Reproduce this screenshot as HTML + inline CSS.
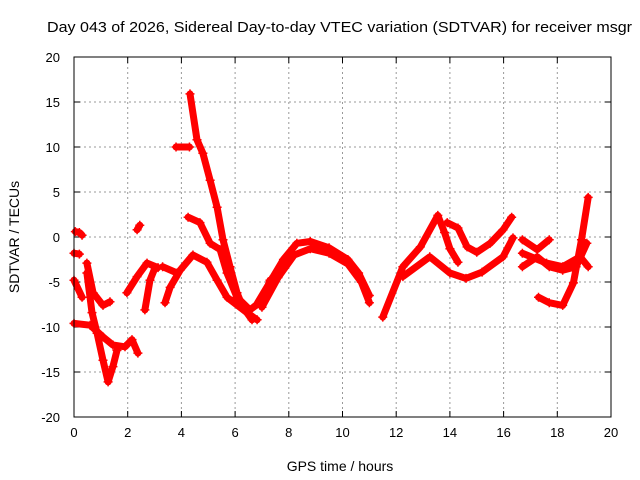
<!DOCTYPE html>
<html><head><meta charset="utf-8"><style>
body{margin:0;background:#fff}
svg{display:block;font-family:"Liberation Sans",sans-serif}
</style></head><body>
<svg id="chart" width="640" height="480">
<text x="47" y="32" font-size="15" textLength="585" lengthAdjust="spacingAndGlyphs">Day 043 of 2026, Sidereal Day-to-day VTEC variation (SDTVAR) for receiver msgr</text>
<text x="340" y="471" font-size="14" text-anchor="middle">GPS time / hours</text>
<text transform="translate(19,237) rotate(-90)" font-size="14" text-anchor="middle">SDTVAR / TECUs</text>
<g id="grid"></g><g id="series"></g>
<rect x="74" y="57" width="537" height="360" fill="none" stroke="#000" stroke-width="1"/>
</svg>
<script>
const xTicks=[0,2,4,6,8,10,12,14,16,18,20];
const yTicks=[-20,-15,-10,-5,0,5,10,15,20];
const trackA=[[0.05,0.6],[0.2,0.5],[0.3,0.2]];
const trackB=[[0.0,-1.8],[0.2,-1.9]];
const trackC=[[0.48,-2.9],[0.71,-6.2],[1.08,-7.6],[1.34,-7.2]];
const trackD=[[0.0,-4.8],[0.3,-6.7]];
const trackE=[[0.48,-4],[0.67,-8.4],[0.86,-10.7],[1.08,-13.7],[1.27,-16.1],[1.45,-14.4],[1.6,-12.6]];
const trackF=[[0.0,-9.6],[0.6,-9.8],[1.08,-11.1],[1.45,-12],[1.9,-12.2],[2.16,-11.4],[2.38,-12.9]];
const trackG=[[2.35,0.8],[2.45,1.3]];
const trackH=[[1.97,-6.2],[2.35,-4.4],[2.72,-2.9],[3.13,-3.4]];
const trackI=[[2.64,-8.1],[2.83,-4.8],[3.02,-3.4]];
const trackJ=[[3.39,-7.3],[3.58,-5.6],[3.95,-3.7],[4.43,-2],[4.95,-2.8],[5.33,-4.8],[5.7,-6.7],[6.44,-8.4],[6.82,-9.2]];
const trackK=[[3.3,-3.3],[3.84,-4]];
const trackL=[[4.32,15.9],[4.58,10.8],[4.8,9.3],[5.07,6.3],[5.33,3.3],[5.55,-0.3],[5.81,-3.3],[6.07,-6.2],[6.29,-7.8],[6.63,-9.2]];
const trackM=[[4.25,2.2],[4.69,1.6],[5.07,-0.7],[5.44,-1.4],[5.7,-4],[6.07,-6.7],[6.55,-8.1],[7.04,-7],[7.3,-4.8]];
const trackN=[[3.8,10],[4.3,10]];
const trackW1=[[6.8,-7.5],[7.3,-5],[7.8,-2.5],[8.3,-0.7],[8.8,-0.5],[9.5,-1.2],[10.2,-2.5],[10.6,-4],[11,-6.5]];
const trackW2=[[7.0,-7.8],[7.6,-4.5],[8.2,-2],[8.8,-1.3],[9.5,-1.8],[10.2,-3],[10.7,-5],[11,-7.3]];
const trackQ1=[[11.5,-8.9],[12.25,-3.3],[12.9,-1.1],[13.55,2.4],[13.8,0.5],[14.0,-1.3],[14.3,-2.8]];
const trackQ2=[[12.25,-4.4],[13.25,-2.2],[14.0,-4],[14.6,-4.6],[15.2,-3.9],[15.98,-2.2],[16.35,-0.1]];
const trackQ3=[[13.9,1.6],[14.3,1],[14.64,-1.1],[15.0,-1.7],[15.5,-0.7],[15.98,0.8],[16.3,2.2]];
const trackR1=[[16.7,-0.3],[17.25,-1.4],[17.7,-0.3]];
const trackR2=[[16.7,-3.3],[17.25,-2.2],[17.7,-3.3],[18.2,-3.7],[18.7,-3.3],[19.1,-0.7]];
const trackR3=[[17.3,-6.7],[17.7,-7.3],[18.2,-7.6],[18.6,-5.1],[18.9,-0.3],[19.15,4.4]];
const trackR4=[[16.7,-1.8],[17.6,-2.9],[18.2,-3.3],[18.85,-2.2],[19.15,-3.3]];
const tracks=[trackA,trackB,trackC,trackD,trackE,trackF,trackG,trackH,trackI,trackJ,trackK,trackL,trackM,trackN,trackW1,trackW2,trackQ1,trackQ2,trackQ3,trackR1,trackR2,trackR3,trackR4];

const NS='http://www.w3.org/2000/svg';
const X0=74,X1=611,Y0=417,Y1=57;
function sx(t){return X0+(t-0)/(20-0)*(X1-X0);}
function sy(v){return Y0-(v+20)/40*(Y0-Y1);}
function mk(tag,attrs,parent){const e=document.createElementNS(NS,tag);for(const k in attrs)e.setAttribute(k,attrs[k]);parent.appendChild(e);return e;}
const grid=document.getElementById('grid');
xTicks.forEach(t=>{
  const x=sx(t);
  if(t>0&&t<20){const l=mk('line',{x1:x,x2:x,y1:Y1,y2:Y0,stroke:'#999','stroke-dasharray':'2,3'},grid);
  
  }
  mk('line',{x1:x,x2:x,y1:Y0,y2:Y0-6,stroke:'#000'},grid);
  mk('line',{x1:x,x2:x,y1:Y1,y2:Y1+6,stroke:'#000'},grid);
  const tx=mk('text',{x:x,y:Y0+20,'font-size':13,'text-anchor':'middle'},grid);
  tx.textContent=t;
  
  
});
yTicks.forEach(v=>{
  const y=sy(v);
  if(v>-20&&v<20){const l=mk('line',{x1:X0,x2:X1,y1:y,y2:y,stroke:'#999','stroke-dasharray':'2,3'},grid);
  
  }
  mk('line',{x1:X0,x2:X0+6,y1:y,y2:y,stroke:'#000'},grid);
  mk('line',{x1:X1,x2:X1-6,y1:y,y2:y,stroke:'#000'},grid);
  const tx=mk('text',{x:X0-14,y:y+5,'font-size':13,'text-anchor':'end'},grid);
  tx.textContent=v;
  
  
});
const sg=document.getElementById('series');
tracks.forEach(tr=>{
  const pts=tr.map(p=>sx(p[0]).toFixed(1)+','+sy(p[1]).toFixed(1)).join(' ');
  const pl=mk('polyline',{points:pts,fill:'none',stroke:'#f00','stroke-width':7,'stroke-linejoin':'round','stroke-linecap':'round'},sg);
  
  
  tr.forEach(p=>{
    const x=sx(p[0]),y=sy(p[1]);
    const m=mk('path',{d:`M${x-4.5},${y}H${x+4.5}M${x},${y-4.5}V${y+4.5}`,stroke:'#f00','stroke-width':1.5},sg);
    
    
  });
});
</script>
</body></html>
